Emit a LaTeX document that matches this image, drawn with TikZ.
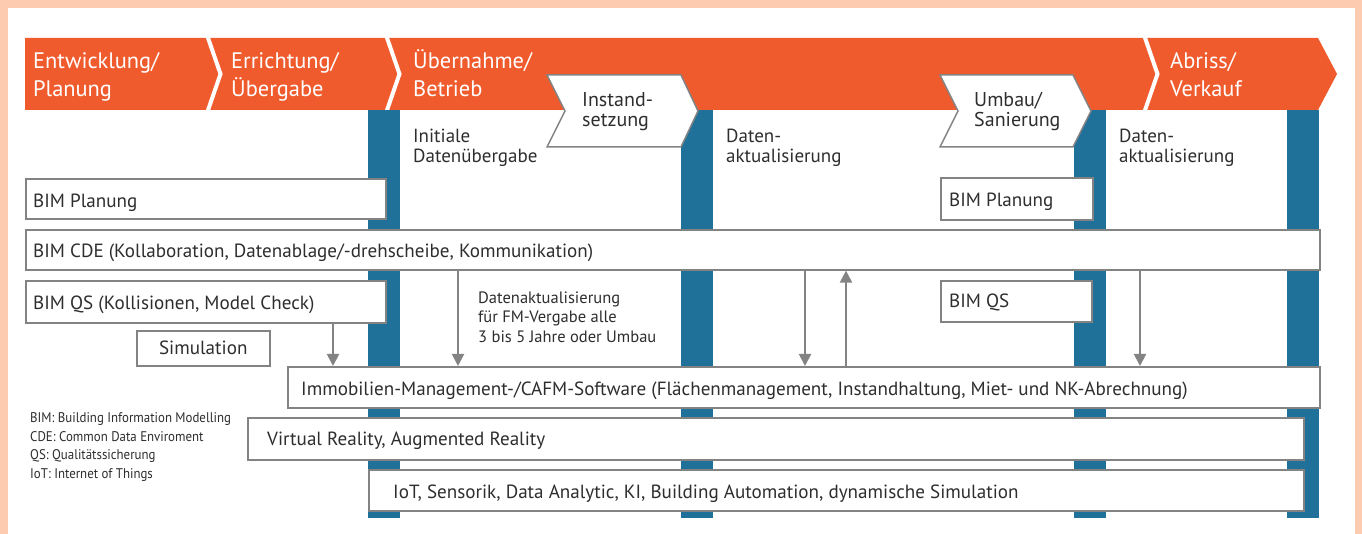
\documentclass[tikz,border=0pt]{standalone}
\usepackage{fontspec}
\setmainfont{PT Sans}
\newfontfamily\narrowfont[FakeStretch=0.92]{PT Sans}
\usetikzlibrary{arrows.meta,calc}
\definecolor{peach}{HTML}{FCCBB0}
\definecolor{banner}{HTML}{F05B2D}
\definecolor{pillar}{HTML}{1F7199}
\definecolor{frame}{HTML}{838383}
\definecolor{ink}{HTML}{2E2E2E}
\begin{document}
\begin{tikzpicture}[x=1pt,y=-1pt,
  % multi-line nodes are placed by the baseline of their last line
  phase/.style={text=white, font=\fontsize{22.4}{28}\selectfont, align=left, anchor=base west, inner sep=0pt},
  chevtext/.style={text=ink, font=\fontsize{20}{20}\selectfont, align=left, anchor=base west, inner sep=0pt},
  note/.style={text=ink, font=\fontsize{19}{20}\selectfont, align=left, anchor=base west, inner sep=0pt},
  small/.style={text=ink, font=\fontsize{16.5}{19.5}\selectfont, align=left, anchor=base west, inner sep=0pt},
  legend/.style={text=ink, font=\narrowfont\fontsize{14}{18.5}\selectfont, align=left, anchor=base west, inner sep=0pt},
  box/.style={draw=frame, line width=1.6pt, fill=white, anchor=north west, inner sep=0pt},
  boxtext/.style={text=ink, font=\fontsize{19.1}{22}\selectfont, anchor=base west, inner sep=0pt},
  chev/.style={draw=frame, line width=1.5pt, fill=white, line join=miter},
  flow/.style={draw=frame, line width=2pt, -{Triangle[length=12pt,width=12pt]}},
]
\useasboundingbox (0,0) rectangle (1362,534);
% page frame
\fill[peach] (0,0) rectangle (1362,534);
\fill[white] (8,8) rectangle (1355,534);

% vertical milestone bars
\foreach \x in {368,681,1074,1287}
  \fill[pillar] (\x,110) rectangle ++(32,408);

% life-cycle banner
\fill[banner] (25,38) -- (1318,38) -- (1337,74) -- (1318,110) -- (25,110) -- cycle;
\begin{scope}
  \clip (25,38) rectangle (1340,110);
  \foreach \x in {206,385,1143}
    \draw[white, line width=4pt] (\x,32) -- ($(\x,74)+(14.5,0)$) -- (\x,116);
\end{scope}

\node[phase] (p1) at (33,97) {Entwicklung/\\Planung};
\node[phase] (p2) at (231,97) {Errichtung/\\Übergabe};
\node[phase] (p3) at (413,97) {Übernahme/\\Betrieb};
\node[phase] (p4) at (1170,97) {Abriss/\\Verkauf};

% intermediate steps
\draw[chev] (547,75) -- (681,75) -- (698,111) -- (681,147) -- (547,147) -- (565,111) -- cycle;
\node[chevtext] (inst) at (582,127) {Instand-\\setzung};
\draw[chev] (940,75) -- (1073,75) -- (1091,111) -- (1073,147) -- (940,147) -- (958,111) -- cycle;
\node[chevtext] (umbau) at (974,127) {Umbau/\\Sanierung};

\node[note] (n1) at (413,163) {Initiale\\Datenübergabe};
\node[note] (n2) at (726,163) {Daten-\\aktualisierung};
\node[note] (n3) at (1119,163) {Daten-\\aktualisierung};

% tool boxes
\node[box, minimum width=360, minimum height=40] (bpL) at (25,178) {};
\node[boxtext] (bpL-t) at ($(bpL.north west)+(8,30)$) {BIM Planung};
\node[box, minimum width=1294, minimum height=40] (cde) at (25,229) {};
\node[boxtext] (cde-t) at ($(cde.north west)+(8,29)$) {BIM CDE (Kollaboration, Datenablage/-drehscheibe, Kommunikation)};
\node[box, minimum width=360, minimum height=42] (qsL) at (25,280) {};
\node[boxtext] (qsL-t) at ($(qsL.north west)+(8,30)$) {BIM QS (Kollisionen, Model Check)};
\node[box, minimum width=133, minimum height=35] (sim) at (136,330) {};
\node[boxtext, anchor=base] (sim-t) at ($(sim.north)+(0,25)$) {Simulation};
\node[box, minimum width=152, minimum height=42] (bpR) at (940,177) {};
\node[boxtext] (bpR-t) at ($(bpR.north west)+(9,30)$) {BIM Planung};
\node[box, minimum width=151, minimum height=41] (qsR) at (940,280) {};
\node[boxtext] (qsR-t) at ($(qsR.north west)+(9,28)$) {BIM QS};
\node[box, minimum width=1032, minimum height=41] (cafm) at (287,366) {};
\node[boxtext] (cafm-t) at ($(cafm.north west)+(14,29)$) {Immobilien-Management-/CAFM-Software (Flächenmanagement, Instandhaltung, Miet- und NK-Abrechnung)};
\node[box, minimum width=1056, minimum height=42] (vr) at (247,417) {};
\node[boxtext] (vr-t) at ($(vr.north west)+(20,28)$) {Virtual Reality, Augmented Reality};
\node[box, minimum width=935, minimum height=41] (iot) at (368,469) {};
\node[boxtext] (iot-t) at ($(iot.north west)+(25,29)$) {IoT, Sensorik, Data Analytic, KI, Building Automation, dynamische Simulation};

% data flows
\coordinate (a1) at (333,0);
\coordinate (a2) at (458,0);
\coordinate (a3) at (805,0);
\coordinate (a4) at (846,0);
\coordinate (a5) at (1140,0);
\draw[flow] (qsL.south -| a1) -- (cafm.north -| a1);
\draw[flow] (cde.south -| a2) -- (cafm.north -| a2);
\draw[flow] (cde.south -| a3) -- (cafm.north -| a3);
\draw[flow] (cafm.north -| a4) -- (cde.south -| a4);
\draw[flow] (cde.south -| a5) -- (cafm.north -| a5);

\node[small] (upd) at (478,342) {Datenaktualisierung\\für FM-Vergabe alle\\3 bis 5 Jahre oder Umbau};

% abbreviations
\node[legend] (abbr) at (30,478) {BIM: Building Information Modelling\\CDE: Common Data Enviroment\\QS: Qualitätssicherung\\IoT: Internet of Things};
\end{tikzpicture}
\end{document}
